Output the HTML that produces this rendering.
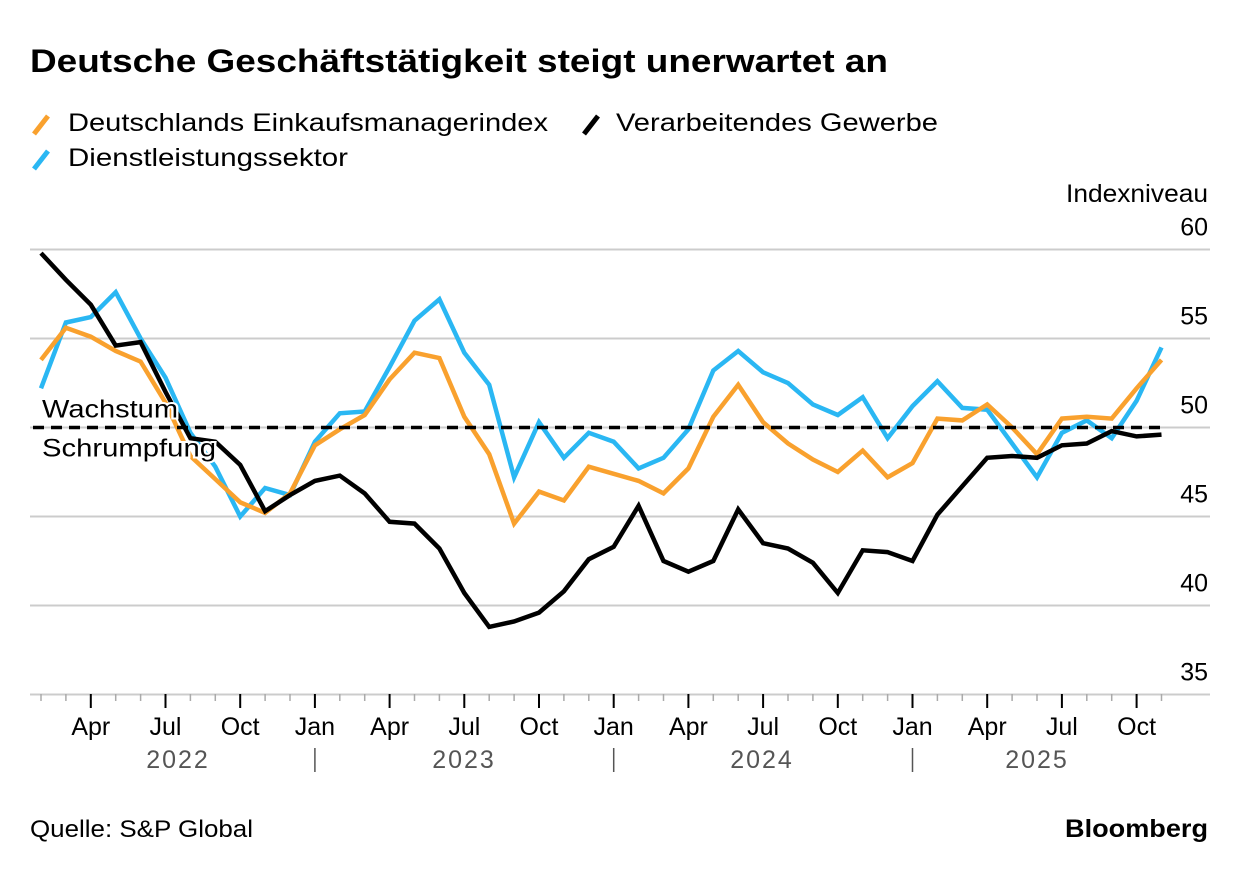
<!DOCTYPE html>
<html><head><meta charset="utf-8">
<style>
html,body{margin:0;padding:0;background:#fff;}
body{width:1237px;height:870px;position:relative;font-family:"Liberation Sans",Arial,sans-serif;overflow:hidden;}
</style></head>
<body>
<svg id="chart" width="1237" height="870" xmlns="http://www.w3.org/2000/svg" style="position:absolute;left:0;top:0;font-family:'Liberation Sans',Arial,sans-serif">
  <text x="30" y="72" font-size="32" font-weight="bold" fill="#000" textLength="858" lengthAdjust="spacingAndGlyphs">Deutsche Geschäftstätigkeit steigt unerwartet an</text>
  <g>
    <g>
      <line x1="34" y1="134" x2="48" y2="116" stroke="#f9a12e" stroke-width="5"/>
      <text x="68" y="131" font-size="25" fill="#000" textLength="480" lengthAdjust="spacingAndGlyphs">Deutschlands Einkaufsmanagerindex</text>
    </g>
    <g>
      <line x1="584" y1="134" x2="598" y2="116" stroke="#000" stroke-width="5"/>
      <text x="616" y="131" font-size="25" fill="#000" textLength="322" lengthAdjust="spacingAndGlyphs">Verarbeitendes Gewerbe</text>
    </g>
    <g>
      <line x1="34" y1="169" x2="48" y2="151" stroke="#2ab7f3" stroke-width="5"/>
      <text x="68" y="166" font-size="25" fill="#000" textLength="280" lengthAdjust="spacingAndGlyphs">Dienstleistungssektor</text>
    </g>
  </g>
  <text x="1066" y="202" font-size="25" fill="#000" textLength="142" lengthAdjust="spacingAndGlyphs">Indexniveau</text>
  <g id="grid"></g>
  <g id="axis"></g>
  <g id="series"></g>
  <text x="30" y="837" font-size="24" fill="#000" textLength="223" lengthAdjust="spacingAndGlyphs">Quelle: S&amp;P Global</text>
  <text x="1065" y="837" font-size="25" font-weight="bold" fill="#000" textLength="143" lengthAdjust="spacingAndGlyphs">Bloomberg</text>
</svg>
<script>
const yTicks = [35, 40, 45, 50, 55, 60];
const manufacturing = [59.8,58.3,56.9,54.6,54.8,52.0,49.4,49.2,47.9,45.3,46.2,47.0,47.3,46.3,44.7,44.6,43.2,40.7,38.8,39.1,39.6,40.8,42.6,43.3,45.6,42.5,41.9,42.5,45.4,43.5,43.2,42.4,40.7,43.1,43.0,42.5,45.1,46.7,48.3,48.4,48.3,49.0,49.1,49.8,49.5,49.6];
const services = [52.2,55.9,56.2,57.6,55.0,52.8,49.7,47.8,45.0,46.6,46.2,49.2,50.8,50.9,53.4,56.0,57.2,54.2,52.4,47.2,50.3,48.3,49.7,49.2,47.7,48.3,49.9,53.2,54.3,53.1,52.5,51.3,50.7,51.7,49.4,51.2,52.6,51.1,51.0,49.1,47.2,49.7,50.4,49.4,51.5,54.5];
const composite = [53.8,55.6,55.1,54.3,53.7,51.4,48.4,47.1,45.8,45.2,46.3,49.0,49.9,50.7,52.7,54.2,53.9,50.6,48.5,44.6,46.4,45.9,47.8,47.4,47.0,46.3,47.7,50.6,52.4,50.3,49.1,48.2,47.5,48.7,47.2,48.0,50.5,50.4,51.3,50.0,48.5,50.5,50.6,50.5,52.2,53.8];
const monthLabels = ["Apr","Jul","Oct","Jan","Apr","Jul","Oct","Jan","Apr","Jul","Oct","Jan","Apr","Jul","Oct"];
const yearLabels = ["2022","2023","2024","2025"];
const threshold = 50;

const NS = "http://www.w3.org/2000/svg";
const x = i => 41 + i * 24.9;           // i = months since Feb 2022
const y = v => 427.5 - (v - 50) * 17.8;
function mk(tag, attrs, parent){const e=document.createElementNS(NS,tag);for(const k in attrs)e.setAttribute(k,attrs[k]);parent.appendChild(e);return e;}

const grid = document.getElementById('grid');
yTicks.forEach(t => {
  const l = mk('line',{x1:30,x2:1210,y1:y(t),y2:y(t),stroke:'#cccccc','stroke-width':2},grid);
  
  
  const tx = mk('text',{x:1208,y:y(t)-14,'font-size':25,'text-anchor':'end',fill:'#000'},grid);
  tx.textContent = t;
  
  
});

const axis = document.getElementById('axis');
for (let i = -1; i <= 45; i++) {
  const month = (i + 1) % 3;
  const major = month === 0 && i >= 0;
  if (x(i) < 30) continue;
  const t = mk('line',{x1:x(i),x2:x(i),y1:694,y2:major?708:701,stroke:major?'#000':'#aaa','stroke-width':major?2:1.5},axis);
  
  
}
monthLabels.forEach((m, k) => {
  const i = 2 + k * 3;
  const tx = mk('text',{x:x(i),y:735,'font-size':25,'text-anchor':'middle',fill:'#000'},axis);
  tx.textContent = m;
  
  
});
const yearCenters = [178, 464, 762, 1037];
yearLabels.forEach((yr, k) => {
  const startI = 11 + (k - 1) * 12;
  const tx = mk('text',{x:yearCenters[k],y:768,'font-size':25,'text-anchor':'middle',fill:'#555','letter-spacing':'2'},axis);
  tx.textContent = yr;
  
  
  if (k > 0) {
    const s = mk('line',{x1:x(startI),x2:x(startI),y1:748,y2:772,stroke:'#555','stroke-width':1.5},axis);
    
    
  }
});

const series = document.getElementById('series');
function drawLine(vals, color, name){
  const d = vals.map((v,i)=>(i?'L':'M')+x(i).toFixed(1)+','+y(v).toFixed(1)).join(' ');
  const p = mk('path',{d:d,fill:'none',stroke:color,'stroke-width':4.5,'stroke-linejoin':'miter'},series);
  
  
}
drawLine(services,'#2ab7f3','line-services');
drawLine(composite,'#f9a12e','line-composite');
drawLine(manufacturing,'#000000','line-manufacturing');

const th = mk('line',{x1:33,x2:1162,y1:y(threshold),y2:y(threshold),stroke:'#000','stroke-width':3.5,'stroke-dasharray':'11 7'},series);


const lg = mk('text',{x:42,y:y(threshold)-10,'font-size':25,fill:'#000',stroke:'#fff','stroke-width':4,'paint-order':'stroke',textLength:136,lengthAdjust:'spacingAndGlyphs'},series);
lg.textContent = 'Wachstum';


const ls = mk('text',{x:42,y:y(threshold)+29,'font-size':25,fill:'#000',stroke:'#fff','stroke-width':4,'paint-order':'stroke',textLength:174,lengthAdjust:'spacingAndGlyphs'},series);
ls.textContent = 'Schrumpfung';


</script>
</body></html>
